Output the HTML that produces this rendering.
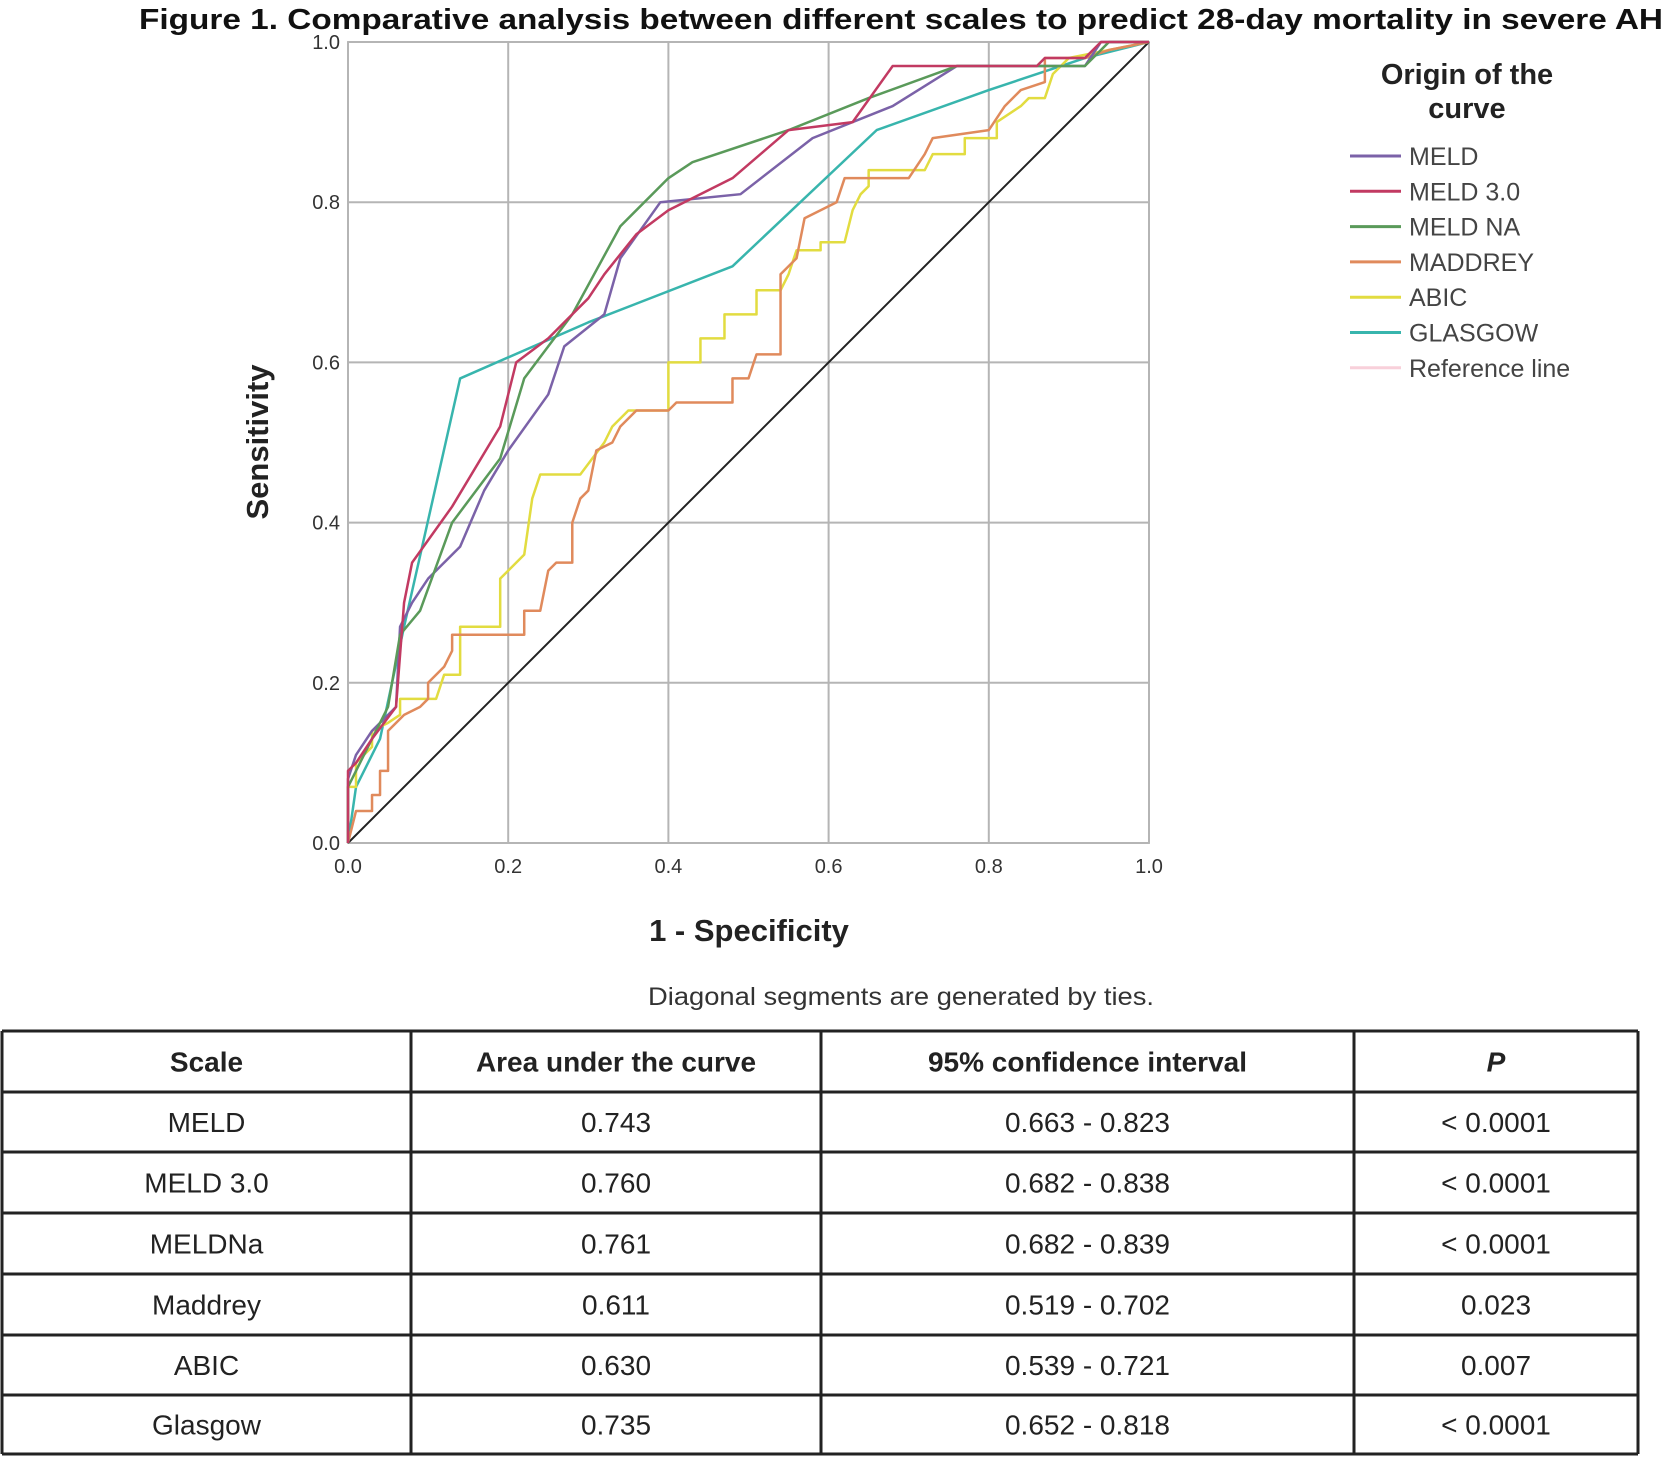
<!DOCTYPE html>
<html><head><meta charset="utf-8">
<style>
body{margin:0;background:#fff;width:1667px;height:1456px;overflow:hidden;font-family:"Liberation Sans",sans-serif;}
svg text{font-family:"Liberation Sans",sans-serif;}
</style></head>
<body>
<svg id="chart" width="1667" height="1456" viewBox="0 0 1667 1456" xmlns="http://www.w3.org/2000/svg">
<text x="139" y="29" textLength="1524" lengthAdjust="spacingAndGlyphs" font-size="29" font-weight="bold" fill="#111">Figure 1. Comparative analysis between different scales to predict 28-day mortality in severe AH</text>
<g id="grid"></g>
<g id="series"></g>
<g id="ticks"></g>
<text x="749" y="941" text-anchor="middle" font-size="31" font-weight="bold" fill="#222">1 - Specificity</text>
<text transform="translate(268,442) rotate(-90)" text-anchor="middle" font-size="31" font-weight="bold" fill="#222">Sensitivity</text>
<text x="648" y="1005" textLength="506" lengthAdjust="spacingAndGlyphs" font-size="25" fill="#333">Diagonal segments are generated by ties.</text>
<text x="1467" y="84" text-anchor="middle" font-size="29" font-weight="bold" fill="#222">Origin of the</text>
<text x="1467" y="118" text-anchor="middle" font-size="29" font-weight="bold" fill="#222">curve</text>
<g id="legend"></g>
<g id="table"></g>
</svg>
<script>
const NS="http://www.w3.org/2000/svg";
const seriesNames=["MELD","MELD 3.0","MELD NA","MADDREY","ABIC","GLASGOW"];
const seriesColors=["#7b62a8","#c23a62","#5a9a5a","#e08a5c","#e2dc40","#38b5ad"];
const meldX=[0,0.01,0.03,0.06,0.065,0.08,0.1,0.14,0.17,0.2,0.25,0.27,0.32,0.34,0.39,0.49,0.58,0.68,0.76,0.92,0.94,1];
const meldY=[0.08,0.11,0.14,0.17,0.27,0.30,0.33,0.37,0.44,0.49,0.56,0.62,0.66,0.73,0.80,0.81,0.88,0.92,0.97,0.97,1,1];
const meld3X=[0,0.01,0.03,0.06,0.07,0.08,0.13,0.19,0.21,0.25,0.3,0.32,0.36,0.4,0.48,0.55,0.63,0.68,0.86,0.87,0.92,0.94,1];
const meld3Y=[0.09,0.1,0.13,0.17,0.30,0.35,0.42,0.52,0.60,0.63,0.68,0.71,0.76,0.79,0.83,0.89,0.90,0.97,0.97,0.98,0.98,1,1];
const meldNaX=[0,0.03,0.05,0.065,0.09,0.13,0.19,0.22,0.28,0.34,0.4,0.43,0.55,0.65,0.76,0.92,0.95,1];
const meldNaY=[0.07,0.13,0.17,0.26,0.29,0.40,0.48,0.58,0.66,0.77,0.83,0.85,0.89,0.93,0.97,0.97,1,1];
const maddreyX=[0,0.01,0.03,0.03,0.04,0.04,0.05,0.05,0.06,0.07,0.09,0.1,0.1,0.12,0.13,0.13,0.22,0.22,0.24,0.25,0.26,0.28,0.28,0.29,0.3,0.31,0.33,0.34,0.36,0.4,0.41,0.48,0.48,0.5,0.51,0.54,0.54,0.56,0.57,0.59,0.61,0.62,0.7,0.72,0.73,0.8,0.82,0.84,0.87,0.87,0.92,0.95,1];
const maddreyY=[0,0.04,0.04,0.06,0.06,0.09,0.09,0.14,0.15,0.16,0.17,0.18,0.2,0.22,0.24,0.26,0.26,0.29,0.29,0.34,0.35,0.35,0.4,0.43,0.44,0.49,0.5,0.52,0.54,0.54,0.55,0.55,0.58,0.58,0.61,0.61,0.71,0.73,0.78,0.79,0.8,0.83,0.83,0.86,0.88,0.89,0.92,0.94,0.95,0.98,0.98,0.99,1];
const abicX=[0,0.01,0.01,0.03,0.03,0.05,0.065,0.065,0.11,0.12,0.14,0.14,0.19,0.19,0.22,0.23,0.24,0.29,0.32,0.33,0.35,0.4,0.4,0.44,0.44,0.47,0.47,0.51,0.51,0.54,0.55,0.56,0.59,0.59,0.62,0.63,0.64,0.65,0.65,0.72,0.73,0.77,0.77,0.81,0.81,0.84,0.85,0.87,0.88,0.9,0.95,1];
const abicY=[0.07,0.07,0.1,0.12,0.14,0.15,0.16,0.18,0.18,0.21,0.21,0.27,0.27,0.33,0.36,0.43,0.46,0.46,0.5,0.52,0.54,0.54,0.6,0.6,0.63,0.63,0.66,0.66,0.69,0.69,0.71,0.74,0.74,0.75,0.75,0.79,0.81,0.82,0.84,0.84,0.86,0.86,0.88,0.88,0.9,0.92,0.93,0.93,0.96,0.98,0.99,1];
const glasgowX=[0,0.01,0.04,0.07,0.14,0.3,0.48,0.66,0.8,0.92,1];
const glasgowY=[0,0.07,0.13,0.27,0.58,0.65,0.72,0.89,0.94,0.98,1];
const xTicks=[0,0.2,0.4,0.6,0.8,1.0];
const yTicks=[0,0.2,0.4,0.6,0.8,1.0];
const tableHeader=["Scale","Area under the curve","95% confidence interval","P"];
const tableScales=["MELD","MELD 3.0","MELDNa","Maddrey","ABIC","Glasgow"];
const tableAuc=["0.743","0.760","0.761","0.611","0.630","0.735"];
const tableCi=["0.663 - 0.823","0.682 - 0.838","0.682 - 0.839","0.519 - 0.702","0.539 - 0.721","0.652 - 0.818"];
const tableP=["< 0.0001","< 0.0001","< 0.0001","0.023","0.007","< 0.0001"];

const X0=348,X1=1149,Y0=843,Y1=42;
const sx=v=>X0+v*(X1-X0), sy=v=>Y0-v*(Y0-Y1);
function mk(tag,attrs,parent,text){const e=document.createElementNS(NS,tag);for(const k in attrs)e.setAttribute(k,attrs[k]);if(text!==undefined)e.textContent=text;parent.appendChild(e);return e;}
const grid=document.getElementById('grid'),ticks=document.getElementById('ticks'),ser=document.getElementById('series');
mk('rect',{x:X0,y:Y1,width:X1-X0,height:Y0-Y1,fill:'#fff',stroke:'#bbb','stroke-width':2},grid);
xTicks.forEach(t=>{const l=mk('line',{x1:sx(t),x2:sx(t),y1:Y1,y2:Y0,stroke:'#b5b5b5','stroke-width':2},grid);

const tx=mk('text',{x:sx(t),y:Y0+30,'text-anchor':'middle','font-size':20,fill:'#333'},ticks,t.toFixed(1));
});
yTicks.forEach(t=>{const l=mk('line',{x1:X0,x2:X1,y1:sy(t),y2:sy(t),stroke:'#b5b5b5','stroke-width':2},grid);

const tx=mk('text',{x:X0-8,y:sy(t)+7,'text-anchor':'end','font-size':20,fill:'#333'},ticks,t.toFixed(1));
});
const ref=mk('line',{x1:sx(0),y1:sy(0),x2:sx(1),y2:sy(1),stroke:'#222','stroke-width':2},ser);

const allX=[meldX,meld3X,meldNaX,maddreyX,abicX,glasgowX],allY=[meldY,meld3Y,meldNaY,maddreyY,abicY,glasgowY];
const order=[5,4,3,0,2,1];
order.forEach(i=>{let pts=[[0,0]];allX[i].forEach((x,j)=>pts.push([x,allY[i][j]]));
const p=mk('polyline',{points:pts.map(p=>sx(p[0])+','+sy(p[1])).join(' '),fill:'none',stroke:seriesColors[i],'stroke-width':2.5,'stroke-linejoin':'round'},ser);

});
const leg=document.getElementById('legend');
const legNames=seriesNames.concat(["Reference line"]),legColors=seriesColors.concat(["#f8d0da"]);
legNames.forEach((n,i)=>{const y=156+i*35.3;
const g=mk('g',{},leg);

mk('line',{x1:1350,x2:1401,y1:y,y2:y,stroke:legColors[i],'stroke-width':3},g);
mk('text',{x:1409,y:y+9,'font-size':25,fill:'#444'},g,n);});
const tb=document.getElementById('table');
const cols=[2,411,821,1354,1638],rows=[1031,1092,1152,1213,1274,1335,1395,1454];
for(let r=0;r<7;r++){const vals=r==0?tableHeader:[tableScales[r-1],tableAuc[r-1],tableCi[r-1],tableP[r-1]];
const g=mk('g',{},tb);

vals.forEach((v,c)=>{mk('text',{x:(cols[c]+cols[c+1])/2,y:(rows[r]+rows[r+1])/2+10,'text-anchor':'middle','font-size':28,fill:'#222','font-weight':r==0?'bold':'normal','font-style':(r==0&&c==3)?'italic':'normal'},g,v);});}
rows.forEach(y=>mk('line',{x1:cols[0],x2:cols[4],y1:y,y2:y,stroke:'#222','stroke-width':3},tb));
cols.forEach(x=>mk('line',{x1:x,x2:x,y1:rows[0],y2:rows[7],stroke:'#222','stroke-width':3},tb));
</script>
</body></html>
